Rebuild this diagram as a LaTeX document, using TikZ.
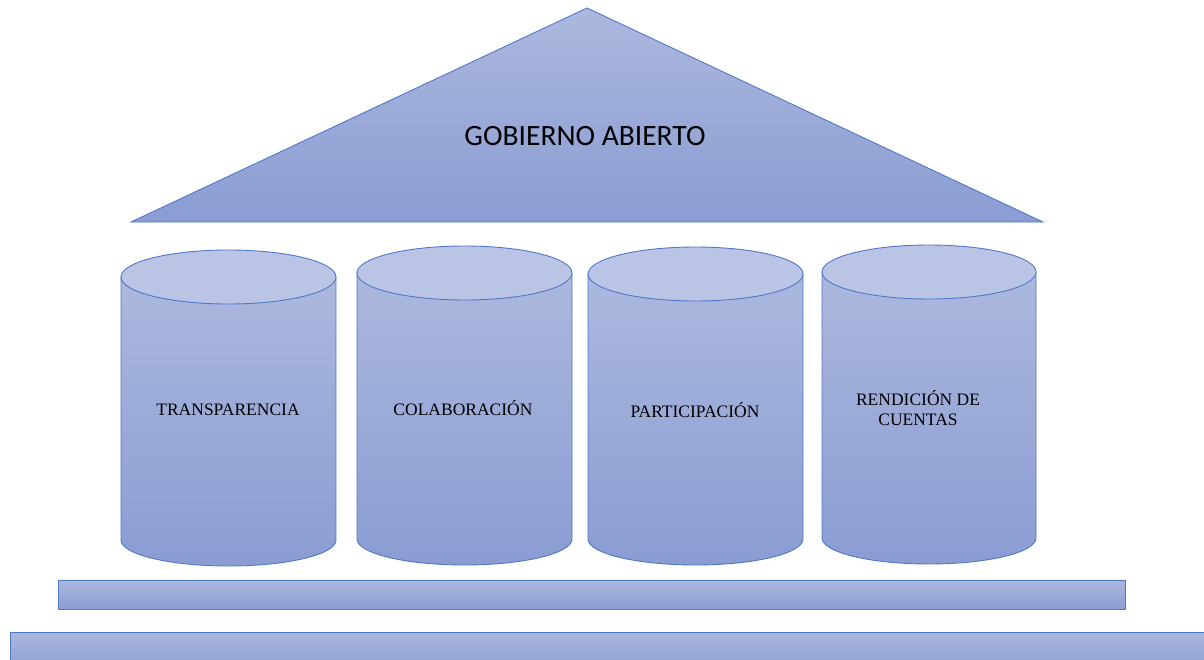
\documentclass[tikz,border=0pt]{standalone}
\usepackage{fontspec}
\setmainfont{Liberation Serif}
\newfontfamily\titlefont{Carlito}
\definecolor{edgeblue}{RGB}{80,120,200}
\definecolor{topfill}{RGB}{172,184,222}
\definecolor{botfill}{RGB}{138,156,210}
\definecolor{capfill}{RGB}{186,196,229}
\tikzset{
  shapebody/.style={draw=edgeblue, line width=0.9pt, top color=topfill, bottom color=botfill},
  capface/.style={draw=edgeblue, line width=0.9pt, fill=capfill},
  pillartext/.style={font=\fontsize{17.5}{19.5}\selectfont, align=center, text=black},
}
\newcommand{\pillar}[5]{% xleft, xright, ytop-center, ybottom-center, name
  \pgfmathsetmacro{\rx}{(#2-#1)/2}
  \pgfmathsetmacro{\cx}{(#2+#1)/2}
  \draw[shapebody] (#1,#3) -- (#1,#4) arc[start angle=180, end angle=0, x radius=\rx, y radius=26] -- (#2,#3) -- cycle;
  \draw[capface] (\cx,#3) ellipse[x radius=\rx, y radius=27];
  \coordinate (#5) at (\cx,#3);
}
\begin{document}
\begin{tikzpicture}[x=1pt,y=-1pt]
\useasboundingbox (0,0) rectangle (1204,659);
\clip (0,0) rectangle (1204,659);
% roof
\draw[shapebody] (587,8) -- (1043,222) -- (131,222) -- cycle;
\node[font=\titlefont\fontsize{29.5}{32}\selectfont] (title) at (585,136) {GOBIERNO ABIERTO};
% pillars
\pillar{121}{336}{277}{540}{p1}
\pillar{357}{572}{273}{539}{p2}
\pillar{588}{803}{274}{539}{p3}
\pillar{822}{1036}{272}{538}{p4}
\node[pillartext] (t1) at (228,410) {TRANSPARENCIA};
\node[pillartext] (t2) at (463,408) {COLABORACIÓN};
\node[pillartext] (t3) at (695,410) {PARTICIPACIÓN};
\node[pillartext] (t4) at (918,408) {RENDICIÓN DE\\CUENTAS};
% base steps
\draw[shapebody] (58,580) rectangle (1125,609);
\draw[shapebody] (10,632) rectangle (1215,670);
\end{tikzpicture}
\end{document}
